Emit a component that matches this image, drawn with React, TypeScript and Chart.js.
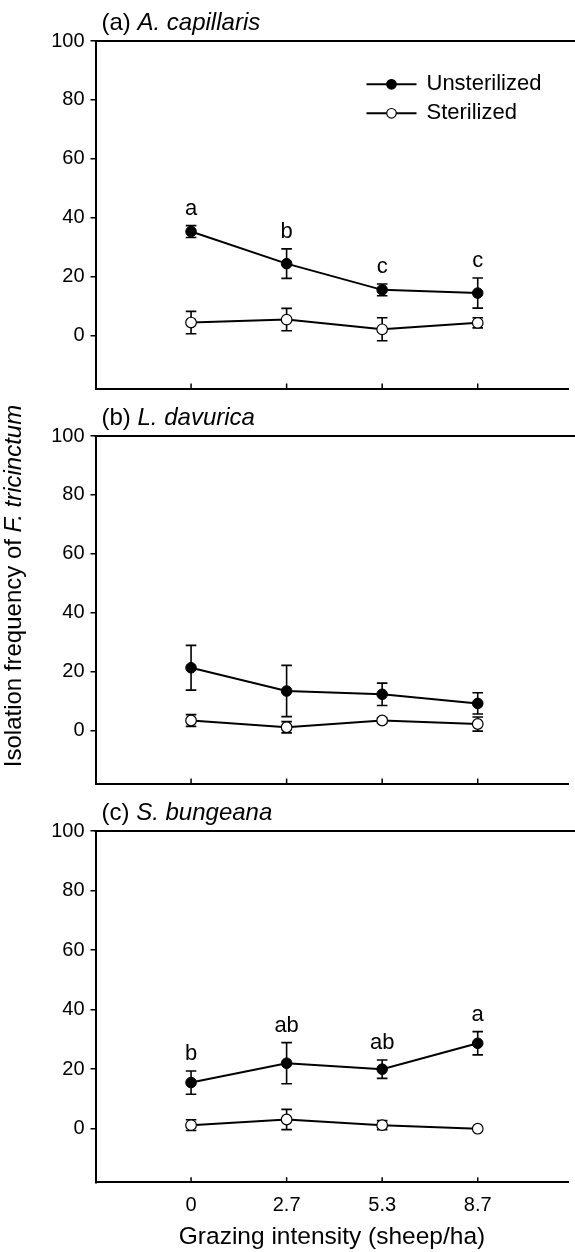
import { useEffect, useRef } from "react";
import { Chart, registerables } from "chart.js";

Chart.register(...registerables);

const FONT = "'Liberation Sans', Arial, Helvetica, sans-serif";

// ---- shared axis data ----
const grazingLabels = ["0", "2.7", "5.3", "8.7"];
const grazingPositions = [1, 2, 3, 4];
const yTickValues = [0, 20, 40, 60, 80, 100];
const seriesNames = ["Unsterilized", "Sterilized"];
const xAxisTitle = "Grazing intensity (sheep/ha)";
const yAxisTitleNormal = "Isolation frequency of ";
const yAxisTitleItalic = "F. tricinctum";

// ---- (a) A. capillaris ----
const aUnsterilized = [35.3, 24.4, 15.5, 14.4];
const aUnsterilizedSE = [2.0, 5.0, 2.0, 5.1];
const aSterilized = [4.4, 5.4, 2.1, 4.3];
const aSterilizedSE = [3.8, 3.8, 3.9, 1.7];
const aLetters = ["a", "b", "c", "c"];

// ---- (b) L. davurica ----
const bUnsterilized = [21.3, 13.4, 12.3, 9.2];
const bUnsterilizedSE = [7.6, 8.7, 3.8, 3.6];
const bSterilized = [3.4, 1.1, 3.4, 2.2];
const bSterilizedSE = [2.0, 1.9, 0.8, 2.4];
const bLetters: string[] = [];

// ---- (c) S. bungeana ----
const cUnsterilized = [15.5, 22.0, 20.0, 28.7];
const cUnsterilizedSE = [3.9, 6.9, 3.1, 3.9];
const cSterilized = [1.2, 3.1, 1.2, 0.0];
const cSterilizedSE = [1.8, 3.4, 1.5, 0.0];
const cLetters = ["b", "ab", "ab", "a"];

type PanelCfg = {
  tag: string;
  species: string;
  un: number[];
  unSE: number[];
  st: number[];
  stSE: number[];
  letters: string[];
  legend: boolean;
  xLabels: boolean;
  yTitle: boolean;
  top: number;
  height: number;
};

const panels: PanelCfg[] = [
  { tag: "(a) ", species: "A. capillaris", un: aUnsterilized, unSE: aUnsterilizedSE, st: aSterilized, stSE: aSterilizedSE, letters: aLetters, legend: true, xLabels: false, yTitle: false, top: 0, height: 395 },
  { tag: "(b) ", species: "L. davurica", un: bUnsterilized, unSE: bUnsterilizedSE, st: bSterilized, stSE: bSterilizedSE, letters: bLetters, legend: false, xLabels: false, yTitle: true, top: 395, height: 395 },
  { tag: "(c) ", species: "S. bungeana", un: cUnsterilized, unSE: cUnsterilizedSE, st: cSterilized, stSE: cSterilizedSE, letters: cLetters, legend: false, xLabels: true, yTitle: false, top: 790, height: 462 },
];

const decorPlugin = {
  id: "decor",
  beforeDatasetsDraw(chart: any, _args: any, opts: any) {
    const ctx = chart.ctx;
    const xs = chart.scales.x;
    const ys = chart.scales.y;
    ctx.save();
    ctx.strokeStyle = "#000";
    ctx.lineWidth = 1.6;
    chart.data.datasets.forEach((ds: any, di: number) => {
      const se: number[] = opts.errors[di];
      ds.data.forEach((p: any, i: number) => {
        if (!se[i]) return;
        const px = xs.getPixelForValue(p.x);
        const y1 = ys.getPixelForValue(p.y + se[i]);
        const y2 = ys.getPixelForValue(p.y - se[i]);
        ctx.beginPath();
        ctx.moveTo(px, y1);
        ctx.lineTo(px, y2);
        ctx.moveTo(px - 5.3, y1);
        ctx.lineTo(px + 5.3, y1);
        ctx.moveTo(px - 5.3, y2);
        ctx.lineTo(px + 5.3, y2);
        ctx.stroke();
      });
    });
    ctx.restore();
  },
  afterDraw(chart: any, _args: any, opts: any) {
    const ctx = chart.ctx;
    const area = chart.chartArea;
    const xs = chart.scales.x;
    const ys = chart.scales.y;
    ctx.save();
    ctx.strokeStyle = "#000";
    // top border
    ctx.lineWidth = 2;
    ctx.beginPath();
    ctx.moveTo(area.left - 1, area.top);
    ctx.lineTo(chart.width, area.top);
    ctx.stroke();
    // inward x ticks
    ctx.lineWidth = 1.5;
    grazingPositions.forEach((v) => {
      const px = xs.getPixelForValue(v);
      ctx.beginPath();
      ctx.moveTo(px, area.bottom);
      ctx.lineTo(px, area.bottom - 5);
      ctx.stroke();
    });
    ctx.fillStyle = "#000";
    // panel title
    ctx.textBaseline = "middle";
    ctx.textAlign = "left";
    ctx.font = `24px ${FONT}`;
    const tx = area.left + 6;
    const ty = area.top - 18;
    ctx.fillText(opts.tag, tx, ty);
    const w1 = ctx.measureText(opts.tag).width;
    ctx.font = `italic 24px ${FONT}`;
    ctx.fillText(opts.species, tx + w1, ty);
    // significance letters
    ctx.font = `22px ${FONT}`;
    ctx.textAlign = "center";
    const un = chart.data.datasets[0].data;
    (opts.letters as string[]).forEach((t, i) => {
      const p = un[i];
      const px = xs.getPixelForValue(p.x);
      const py = ys.getPixelForValue(p.y + opts.errors[0][i]) - 17;
      ctx.fillText(t, px, py);
    });
    // legend
    if (opts.legend) {
      chart.data.datasets.forEach((ds: any, i: number) => {
        const ly = area.top + 43.3 + i * 29;
        const lx0 = area.left + 271;
        const lx1 = area.left + 321;
        ctx.lineWidth = 2;
        ctx.beginPath();
        ctx.moveTo(lx0, ly);
        ctx.lineTo(lx1, ly);
        ctx.stroke();
        ctx.beginPath();
        ctx.arc((lx0 + lx1) / 2, ly, 4.8, 0, Math.PI * 2);
        ctx.fillStyle = ds.pointBackgroundColor;
        ctx.fill();
        ctx.lineWidth = 1.2;
        ctx.stroke();
        ctx.fillStyle = "#000";
        ctx.font = `22px ${FONT}`;
        ctx.textAlign = "left";
        ctx.fillText(ds.label, area.left + 331, ly);
      });
    }
    // y-axis title
    if (opts.yTitle) {
      ctx.translate(14, area.top + 150);
      ctx.rotate(-Math.PI / 2);
      ctx.textAlign = "left";
      ctx.font = `24px ${FONT}`;
      const n1 = ctx.measureText(yAxisTitleNormal).width;
      ctx.font = `italic 24px ${FONT}`;
      const n2 = ctx.measureText(yAxisTitleItalic).width;
      const sx = -(n1 + n2) / 2;
      ctx.font = `24px ${FONT}`;
      ctx.fillText(yAxisTitleNormal, sx, 0);
      ctx.font = `italic 24px ${FONT}`;
      ctx.fillText(yAxisTitleItalic, sx + n1, 0);
    }
    ctx.restore();
  },
};

function Panel({ cfg }: { cfg: PanelCfg }) {
  const ref = useRef<HTMLCanvasElement>(null);
  useEffect(() => {
    const canvas = ref.current;
    if (!canvas) return;
    const chart = new Chart(canvas, {
      type: "line",
      data: {
        datasets: [
          {
            label: seriesNames[0],
            data: grazingPositions.map((x, i) => ({ x, y: cfg.un[i] })),
            borderColor: "#000",
            borderWidth: 2,
            pointRadius: 5.3,
            pointBackgroundColor: "#000",
            pointBorderColor: "#000",
            pointBorderWidth: 1,
            tension: 0,
          },
          {
            label: seriesNames[1],
            data: grazingPositions.map((x, i) => ({ x, y: cfg.st[i] })),
            borderColor: "#000",
            borderWidth: 2,
            pointRadius: 5.3,
            pointBackgroundColor: "#fff",
            pointBorderColor: "#000",
            pointBorderWidth: 1.2,
            tension: 0,
          },
        ],
      },
      options: {
        responsive: false,
        animation: false,
        devicePixelRatio: 1,
        layout: { padding: { top: 41, left: 0, right: 0, bottom: 0 } },
        plugins: {
          legend: { display: false },
          tooltip: { enabled: false },
          decor: {
            errors: [cfg.unSE, cfg.stSE],
            letters: cfg.letters,
            tag: cfg.tag,
            species: cfg.species,
            legend: cfg.legend,
            yTitle: cfg.yTitle,
          },
        } as any,
        scales: {
          x: {
            type: "linear",
            min: 0,
            max: 4.95,
            afterBuildTicks: (s: any) => {
              s.ticks = grazingPositions.map((v) => ({ value: v }));
            },
            afterFit: (s: any) => {
              s.height = cfg.height - 41 - 351.3;
              s.paddingLeft = 0;
              s.paddingRight = 0;
            },
            grid: { display: false, drawTicks: false },
            border: { display: true, color: "#000", width: 2 },
            ticks: {
              display: cfg.xLabels,
              color: "#000",
              font: { family: FONT, size: 20 },
              padding: 11,
              maxRotation: 0,
              autoSkip: false,
              callback: (v: any) => {
                const i = grazingPositions.indexOf(Number(v));
                return i >= 0 ? grazingLabels[i] : "";
              },
            },
            title: {
              display: cfg.xLabels,
              text: xAxisTitle,
              color: "#000",
              font: { family: FONT, size: 24.5 },
              padding: { top: 0, bottom: 0 },
            },
          },
          y: {
            type: "linear",
            min: -18,
            max: 100,
            afterBuildTicks: (s: any) => {
              s.ticks = yTickValues.map((v) => ({ value: v }));
            },
            afterFit: (s: any) => {
              s.width = 95.5;
              s.paddingTop = 0;
              s.paddingBottom = 0;
            },
            grid: { display: true, drawOnChartArea: false, drawTicks: true, tickLength: 5, color: "#000", lineWidth: 1.5 },
            border: { display: true, color: "#000", width: 2 },
            ticks: { color: "#000", font: { family: FONT, size: 20 }, padding: 6 },
          },
        } as any,
      },
      plugins: [decorPlugin],
    });
    return () => chart.destroy();
  }, [cfg]);
  return (
    <canvas
      ref={ref}
      width={575}
      height={cfg.height}
      style={{ position: "absolute", left: 0, top: cfg.top, width: 575, height: cfg.height }}
    />
  );
}

export default function App() {
  return (
    <div style={{ position: "absolute", left: 0, top: 0, width: 575, height: 1252, overflow: "hidden", background: "#fff" }}>
      {panels.map((p) => (
        <Panel key={p.tag} cfg={p} />
      ))}
    </div>
  );
}
